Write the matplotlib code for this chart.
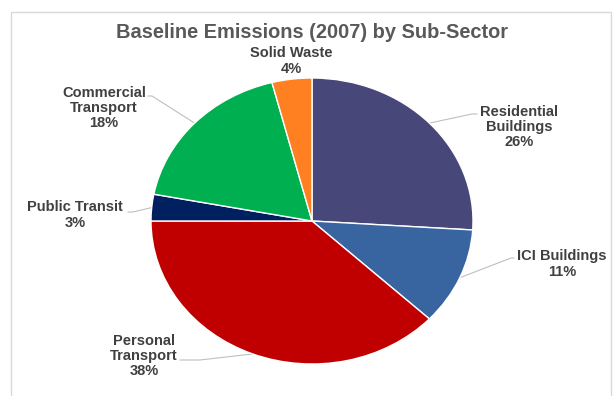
#!/usr/bin/env python3
import numpy as np
import matplotlib
matplotlib.use("Agg")
import matplotlib.pyplot as plt
from matplotlib.patches import Rectangle

# datos (porcentaje por sub-sector, sentido horario desde arriba)
sectors = ["Residential\nBuildings", "ICI Buildings", "Personal\nTransport",
           "Public Transit", "Commercial\nTransport", "Solid Waste"]
shares = [26, 11, 38, 3, 18, 4]
colors = ["#47477a", "#3864a0", "#c00000", "#002060", "#00b050", "#ff8021"]
title = "Baseline Emissions (2007) by Sub-Sector"

W, H = 613, 396
plt.rcParams["font.family"] = ["Liberation Sans", "DejaVu Sans"]

fig = plt.figure(figsize=(W / 100, H / 100), dpi=100)
fig.patch.set_facecolor("white")

# capa de fondo en pixeles (marco, titulo, etiquetas)
bg = fig.add_axes([0, 0, 1, 1])
bg.set_xlim(0, W)
bg.set_ylim(H, 0)
bg.axis("off")
bg.add_patch(Rectangle((11, 12), 600, 400, fill=False, edgecolor="#d9d9d9", lw=1))
bg.text(312, 32, title, ha="center", va="center", fontsize=14.4,
        fontweight="bold", color="#595959")

# pie eliptico (la captura original esta estirada en horizontal)
cx, cy, rx, ry = 312, 221, 161, 143
ax = fig.add_axes([(cx - rx) / W, (H - cy - ry) / H, 2 * rx / W, 2 * ry / H])
wedges, _ = ax.pie(shares, colors=colors, startangle=90, counterclock=False,
                   wedgeprops=dict(edgecolor="white", linewidth=1))
ax.set_aspect("auto")
ax.set_xlim(-1, 1)
ax.set_ylim(-1, 1)
ax.axis("off")

# posicion de cada etiqueta (centro) y codo de la linea guia
label_pos = [(519, 127), (562, 264), (144, 356), (75, 215), (104, 108), (291, 61)]
elbows = [(472, 114), (511, 258), (200, 360), (133, 212), (152, 96), None]
text_edges = [(477, 114), (514, 258), (180, 360), (128, 212), (148, 96), None]

to_px = ax.transData + bg.transData.inverted()
cum = np.cumsum([0] + shares)
for i, (name, val) in enumerate(zip(sectors, shares)):
    x, y = label_pos[i]
    bg.text(x, y, f"{name}\n{val}%", ha="center", va="center", fontsize=10.5,
            fontweight="bold", color="#404040", linespacing=1.1)
    if elbows[i] is None:
        continue
    mid = np.deg2rad(90 - 360 * (cum[i] + val / 2) / 100)
    ax_pt = to_px.transform((np.cos(mid), np.sin(mid)))
    pts = np.array([ax_pt, elbows[i], text_edges[i]])
    bg.plot(pts[:, 0], pts[:, 1], color="#bfbfbf", lw=0.8)

fig.savefig("out.png", dpi=100)
